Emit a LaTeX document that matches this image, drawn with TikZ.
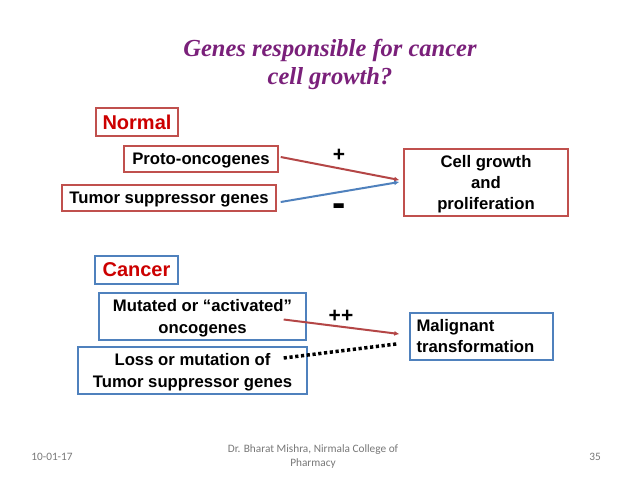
\documentclass[tikz,border=0pt]{standalone}
\usepackage{fontspec}
\setmainfont{Liberation Sans}
\newfontfamily\titlefont{Liberation Serif}
\newfontfamily\footfont{Carlito}
\usetikzlibrary{arrows.meta}
\definecolor{boxred}{RGB}{192,80,77}
\definecolor{boxblue}{RGB}{79,129,189}
\definecolor{arrred}{RGB}{180,70,70}
\definecolor{titlepurple}{RGB}{122,32,122}
\definecolor{labelred}{RGB}{204,0,0}
\definecolor{footgray}{RGB}{120,120,120}
\begin{document}
\begin{tikzpicture}[x=1pt,y=-1pt,
  box/.style={draw,line width=1.4pt,inner sep=0pt,align=center,text depth=0pt,font=\fontsize{16.7}{21}\selectfont\bfseries},
  redbox/.style={box,draw=boxred},
  bluebox/.style={box,draw=boxblue},
  headlabel/.style={font=\fontsize{20}{22}\selectfont\bfseries,text=labelred},
  sign/.style={font=\fontsize{21}{22}\selectfont\bfseries},
  conn/.style={line width=2pt,-{Latex[length=5pt,width=5pt]}},
  foot/.style={font=\footfont\fontsize{11.3}{13.5}\selectfont,text=footgray,align=center}]
\useasboundingbox (0,0) rectangle (638,479);
\fill[white] (0,0) rectangle (638,479);

\node[font=\titlefont\fontsize{24.5}{28}\selectfont\bfseries\itshape,text=titlepurple,align=center]
  (title) at (330,64.5) {Genes responsible for cancer\\cell growth?};

% Normal
\node[redbox,headlabel,minimum width=82,minimum height=28] (normal) at (137,122) {Normal};
\node[redbox,minimum width=154,minimum height=26] (proto) at (201,159) {Proto-oncogenes};
\node[redbox,minimum width=214,minimum height=26] (tumor) at (169,198) {Tumor suppressor genes};
\node[redbox,minimum width=164,minimum height=67] (cell) at (486,182.5) {Cell growth\\and\\proliferation};
\node[sign] (plus) at (339,155) {+};
\node[sign,font=\fontsize{40}{40}\selectfont\bfseries] (minus) at (339,210) {-};
\coordinate (redend) at ([xshift=-4,yshift=2.5]cell.west);
\coordinate (blueend) at ([xshift=-4,yshift=0.5]cell.west);
\draw[conn,arrred] ([xshift=2,yshift=2]proto.east) -- (redend);
\draw[conn,boxblue] ([xshift=4,yshift=-4]tumor.east) -- (blueend);

% Cancer
\node[bluebox,headlabel,minimum width=83,minimum height=28] (cancer) at (136.5,270) {Cancer};
\node[bluebox,minimum width=207,minimum height=47,font=\fontsize{16.7}{22}\selectfont\bfseries] (mutated) at (202.5,316.5) {Mutated or “activated”\\oncogenes};
\node[bluebox,minimum width=229,minimum height=47,font=\fontsize{16.7}{22}\selectfont\bfseries] (loss) at (192.5,370.5) {Loss or mutation of\\Tumor suppressor genes};
\node[bluebox,minimum width=143,minimum height=47,align=left,inner xsep=6.5pt,text width=130,text depth={},font=\fontsize{16.7}{21}\selectfont\bfseries] (malig) at (481.5,336.5) {Malignant\\transformation};
\node[sign] (plusplus) at (341,316) {++};
\coordinate (malend) at ([xshift=-10,yshift=2.5]malig.west);
\coordinate (dotend) at ([xshift=-13,yshift=-7.5]malig.west);
\draw[conn,arrred] ([xshift=-23,yshift=-3]mutated.east) -- (malend);
\draw[line width=3.5pt,dash pattern=on 3.2pt off 2.6pt] ([xshift=-24,yshift=12.5]loss.east) -- (dotend);

% Footer
\node[foot] (date) at (52,457) {10-01-17};
\node[foot] (author) at (313,456.5) {Dr. Bharat Mishra, Nirmala College of\\Pharmacy};
\node[foot] (page) at (595,457) {35};
\end{tikzpicture}
\end{document}
